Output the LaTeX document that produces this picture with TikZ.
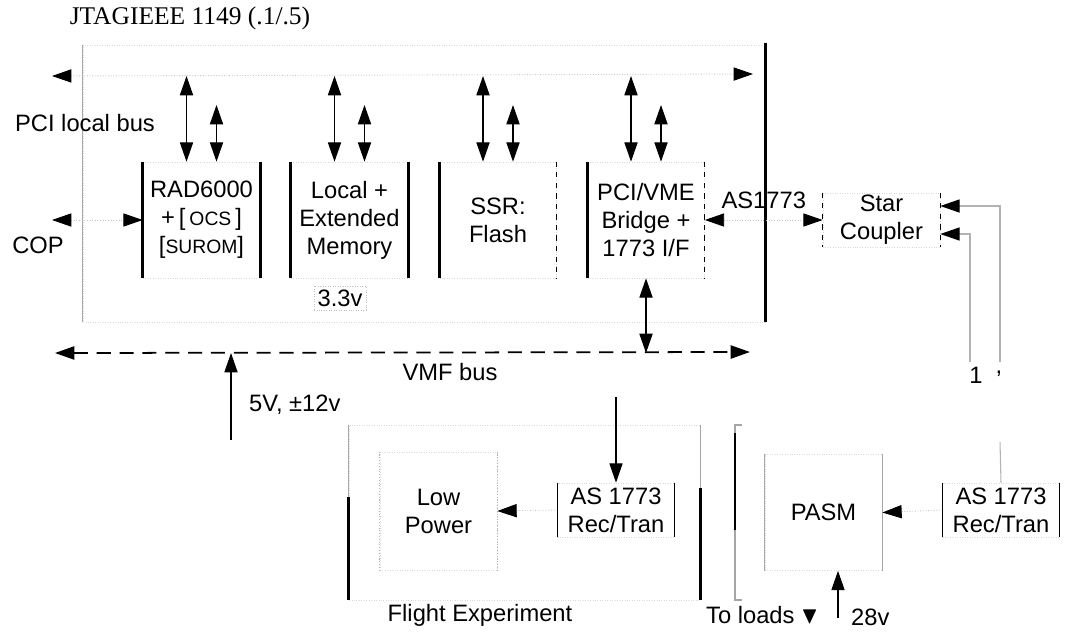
\documentclass[tikz,border=0pt]{standalone}
\usepackage{fontspec}
\usepackage{amssymb}
\setmainfont{Liberation Serif}
\setsansfont{Liberation Sans}
\usetikzlibrary{arrows.meta, positioning, calc}

\begin{document}
\begin{tikzpicture}[x=0.02cm, y=-0.02cm,
  >={Triangle[length=11pt,width=7.5pt,color=black]},
  lbl/.style={font=\sffamily\fontsize{13.5}{16}\selectfont, align=center},
  unit/.style={lbl, rectangle, draw=gray!30, densely dotted, minimum width=2.34cm, minimum height=2.32cm, inner sep=0pt},
  shortunit/.style={unit, minimum height=1.08cm},
  housing/.style={rectangle, draw=gray!30, densely dotted, inner sep=0pt},
  heavy/.style={line width=1.6pt},
  side/.style={line width=0.6pt},
  faint/.style={draw=gray!45, densely dotted, line width=0.5pt},
  dbl/.style={<->, line width=0.7pt},
]
\useasboundingbox (0,0) rectangle (1081,633);
% Title
\node[font=\fontsize{14.5}{16}\selectfont] (title) at (190,18) {JTAGIEEE 1149 (.1/.5)};
% Processor housing
\node[housing, minimum width=13.64cm, minimum height=5.54cm] (cpu) at (424,183.5) {};
\draw[side, gray!70] (cpu.north west) -- (cpu.south west);
\draw[heavy] ([yshift=0.04cm]cpu.north east) -- (cpu.south east);
% Boards
\node[unit] (rad) at (201.5,220) {RAD6000\\+\,[\,{\fontsize{11}{13}\selectfont OCS}\,]\\{}[{\fontsize{11}{13}\selectfont SUROM}]};
\node[unit] (mem) at (349.5,220) {Local +\\Extended\\Memory};
\node[unit] (ssr) at (498,220) {SSR:\\Flash};
\node[unit] (brg) at (646,220) {PCI/VME\\Bridge +\\1773 I/F};
\node[shortunit] (star) at (881.5,220) {Star\\Coupler};
\foreach \b in {rad,mem} {
  \draw[heavy] (\b.north west) -- (\b.south west);
  \draw[heavy] (\b.north east) -- (\b.south east);
}
\draw[heavy] (ssr.north west) -- (ssr.south west);
\draw[side, dashed] (ssr.north east) -- (ssr.south east);
\draw[heavy] (brg.north west) -- (brg.south west);
\draw[side, dashed] (brg.north east) -- (brg.south east);
\draw[side, dashed] (star.north west) -- (star.south west);
\draw[side, dashed] (star.north east) -- (star.south east);
\node[lbl, draw=gray!50, densely dotted, inner sep=2pt] (v33) at (340,298) {3.3v};
% Local buses
\coordinate (pciL) at (52,76);
\coordinate (pciR) at (753,74);
\coordinate (jtag) at (0,105);
\draw[faint, <->] (pciL) -- (pciR);
\node[lbl] (pcilbl) at (85,123) {PCI local bus};
\foreach \b in {rad,mem,ssr,brg} {
  \path ([xshift=-0.3cm]\b.north) coordinate (\b-up) ([xshift=0.3cm]\b.north) coordinate (\b-dn);
  \draw[dbl] (\b-up) -- (\b-up |- pciL);
  \draw[dbl] (\b-dn) -- (\b-dn |- jtag);
}
% COP
\coordinate (copL) at (52,220);
\draw[faint, <->] (copL) -- (rad.west);
\node[lbl] (coplbl) at (38,245) {COP};
% 1773 link
\draw[faint, <->] (brg.east) -- (star.west) node[lbl, midway, above=3pt] (aslbl) {AS1773};
\coordinate (busA) at (1000,362);
\coordinate (busB) at (970,362);
\coordinate (busC) at (1000,442);
\draw[side, gray!60, ->] (busA) |- ([yshift=0.28cm]star.east);
\draw[side, gray!60, ->] (busB) |- ([yshift=-0.28cm]star.east);
\node[lbl] (lone) at (976,375) {1};
\node[lbl] (lcomma) at (999,374) {,};
% VME bus
\coordinate (vmeL) at (55,353);
\coordinate (vmeR) at (750,352);
\draw[line width=1pt, dash pattern=on 8pt off 5pt, <->] (vmeL) -- (vmeR);
\node[lbl] (vmelbl) at (450,372) {VMF bus};
\draw[dbl] (brg.south) -- (brg.south |- vmeL);
\coordinate (psu) at (231,440);
\draw[side, ->] (psu) -- (psu |- vmeL);
\node[lbl, anchor=west] (pwr) at (243,405) {5V, ±12v};
% Flight experiment
\node[housing, minimum width=7.02cm, minimum height=3.5cm] (flight) at (524.5,512.5) {};
\draw[side, gray!70] (flight.north west) -- (flight.south west);
\draw[heavy] ([yshift=-1.44cm]flight.north west) -- (flight.south west);
\draw[side, gray!70] (flight.north east) -- (flight.south east);
\draw[heavy] ([yshift=-1.26cm]flight.north east) -- (flight.south east);
\node[lbl] (fexp) at (480,615) {Flight Experiment};
\node[unit, minimum height=2.36cm] (lowp) at (438.5,511) {Low\\Power};
\draw[side, gray!60, densely dotted] (lowp.north west) -- (lowp.south west);
\draw[side, gray!60, densely dotted] (lowp.north east) -- (lowp.south east);
\node[shortunit] (rtA) at (616,510) {AS 1773\\Rec/Tran};
\draw[side] (rtA.north west) -- (rtA.south west);
\draw[side] (rtA.north east) -- (rtA.south east);
\draw[faint, ->] (rtA.west) -- (lowp.east);
\coordinate (tap) at (616,397);
\draw[side, ->] (tap) -- (rtA.north);
% Loads and PASM
\draw[side, gray!70] (742,425) -- (735,425) -- (735,600) -- (742,600);
\draw[heavy] (735,433) -- (735,530);
\node[lbl, anchor=west] (loads) at (700,615) {To loads $\blacktriangledown$};
\node[unit] (pasm) at (823.5,512.5) {PASM};
\draw[side, gray!70] (pasm.north west) -- (pasm.south west);
\draw[side, gray!70] (pasm.north east) -- (pasm.south east);
\node[shortunit] (rtB) at (1001,510) {AS 1773\\Rec/Tran};
\draw[side] (rtB.north west) -- (rtB.south west);
\draw[side] (rtB.north east) -- (rtB.south east);
\draw[faint, ->] (rtB.west) -- (pasm.east);
\draw[side, gray!60] (busC) -- (rtB.north);
\coordinate (v28) at (838,618);
\draw[side, ->] (v28) -- (v28 |- pasm.south);
\node[lbl, anchor=west] (lv28) at (845,617) {28v};
\end{tikzpicture}
\end{document}
